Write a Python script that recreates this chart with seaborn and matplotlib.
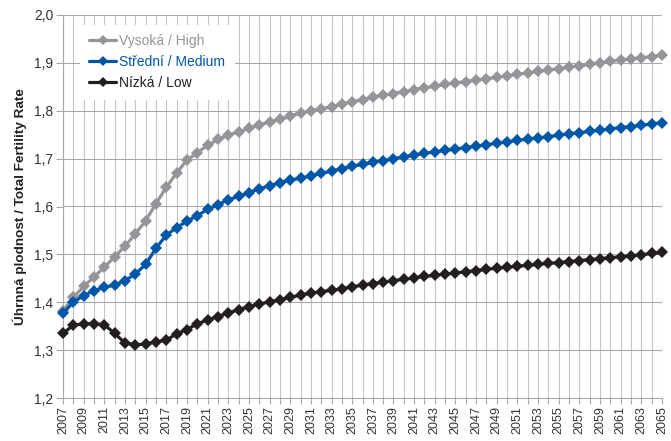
import numpy as np
import pandas as pd
import matplotlib
matplotlib.use("Agg")
import matplotlib.pyplot as plt
import seaborn as sns
from matplotlib.ticker import FuncFormatter, MultipleLocator, FixedLocator

years = list(range(2007, 2066))
tick_years = list(range(2007, 2066, 2))

high = [1.382, 1.410, 1.433, 1.453, 1.473, 1.495, 1.517, 1.543, 1.570, 1.606,
        1.640, 1.670, 1.697, 1.712, 1.728, 1.740, 1.749, 1.756, 1.763, 1.770,
        1.777, 1.782, 1.789, 1.795, 1.800, 1.804, 1.808, 1.814, 1.819, 1.823,
        1.828, 1.832, 1.836, 1.840, 1.844, 1.848, 1.851, 1.855, 1.858, 1.861,
        1.864, 1.867, 1.870, 1.873, 1.876, 1.879, 1.882, 1.885, 1.888, 1.891,
        1.894, 1.897, 1.900, 1.903, 1.906, 1.908, 1.911, 1.913, 1.916]

medium = [1.377, 1.400, 1.414, 1.424, 1.431, 1.436, 1.445, 1.459, 1.479, 1.513,
          1.540, 1.556, 1.569, 1.581, 1.594, 1.604, 1.614, 1.621, 1.629, 1.637,
          1.643, 1.650, 1.655, 1.659, 1.664, 1.669, 1.674, 1.679, 1.684, 1.688,
          1.692, 1.696, 1.700, 1.704, 1.707, 1.711, 1.714, 1.717, 1.720, 1.723,
          1.726, 1.729, 1.732, 1.735, 1.738, 1.741, 1.743, 1.746, 1.749, 1.752,
          1.754, 1.757, 1.759, 1.762, 1.765, 1.767, 1.770, 1.772, 1.775]

low = [1.335, 1.352, 1.355, 1.355, 1.353, 1.335, 1.315, 1.311, 1.313, 1.317,
       1.321, 1.334, 1.343, 1.355, 1.363, 1.370, 1.378, 1.384, 1.391, 1.396,
       1.401, 1.405, 1.410, 1.415, 1.419, 1.422, 1.425, 1.428, 1.432, 1.436,
       1.439, 1.442, 1.445, 1.448, 1.451, 1.454, 1.456, 1.459, 1.461, 1.464,
       1.466, 1.469, 1.471, 1.473, 1.475, 1.477, 1.479, 1.481, 1.483, 1.485,
       1.487, 1.489, 1.491, 1.493, 1.495, 1.497, 1.499, 1.502, 1.504]

series_names = ["Vysoká / High", "Střední / Medium", "Nízká / Low"]
series_values = [high, medium, low]
series_colors = ["#939598", "#0057a8", "#231f20"]

y_label = "Úhrnná plodnost / Total Fertility Rate"

sns.set_theme(style="white")
plt.rcParams["font.family"] = ["Liberation Sans", "DejaVu Sans"]

W, H = 671, 441
fig = plt.figure(figsize=(W / 100, H / 100), dpi=100)
ax = fig.add_axes([63 / W, 1 - 398 / H, (662 - 63) / W, (398 - 15) / H])

frames = []
for name, vals in zip(series_names, series_values):
    frames.append(pd.DataFrame({"year": years, "value": vals, "series": name}))
df = pd.concat(frames, ignore_index=True)

for name, color in zip(series_names, series_colors):
    sub = df[df["series"] == name]
    sns.lineplot(data=sub, x="year", y="value", ax=ax, color=color,
                 linewidth=2.3, marker="D", markersize=6.6,
                 markeredgewidth=0, label=name, zorder=3, clip_on=False)

ax.set_xlim(2007, 2065)
ax.set_ylim(1.2, 2.0)
ax.xaxis.set_major_locator(FixedLocator(tick_years))
ax.xaxis.set_minor_locator(MultipleLocator(1))
ax.yaxis.set_major_locator(MultipleLocator(0.1))
ax.yaxis.set_major_formatter(FuncFormatter(lambda v, p: f"{v:.1f}".replace(".", ",")))

ax.grid(False)
for yr in years:
    ax.axvline(yr, color="#c4c4c4", linewidth=0.8, zorder=0)
for yv in np.arange(1.3, 2.01, 0.1):
    ax.axhline(yv, color="#a8a8a8", linewidth=0.8, zorder=1)

for s in ["top", "right"]:
    ax.spines[s].set_visible(False)
ax.spines["left"].set_color("#a8a8a8")
ax.spines["bottom"].set_color("#a8a8a8")
ax.spines["left"].set_linewidth(0.8)
ax.spines["bottom"].set_linewidth(0.8)

ax.tick_params(axis="x", which="both", direction="out", length=4, width=0.8,
               color="#a8a8a8", labelsize=9, labelcolor="#333333",
               rotation=90, pad=2, bottom=True)
ax.tick_params(axis="y", direction="out", length=5, width=0.8,
               color="#a8a8a8", labelsize=10, labelcolor="#333333", pad=2, left=True)

ax.set_xlabel("")
ax.set_ylabel(y_label, fontsize=9.7, fontweight="bold", color="#231f20", labelpad=5)

leg = ax.legend(loc="upper left", bbox_to_anchor=(0.028, 0.975), frameon=True,
                framealpha=1, facecolor="white", edgecolor="none", fontsize=10,
                handlelength=1.9, handletextpad=0.25, labelspacing=0.5,
                borderpad=0.7, borderaxespad=0, numpoints=1, fancybox=False,
                labelcolor=series_colors)
leg.set_zorder(5)
for h in leg.legend_handles:
    h.set_markersize(5)

fig.savefig("out.png", dpi=100)
